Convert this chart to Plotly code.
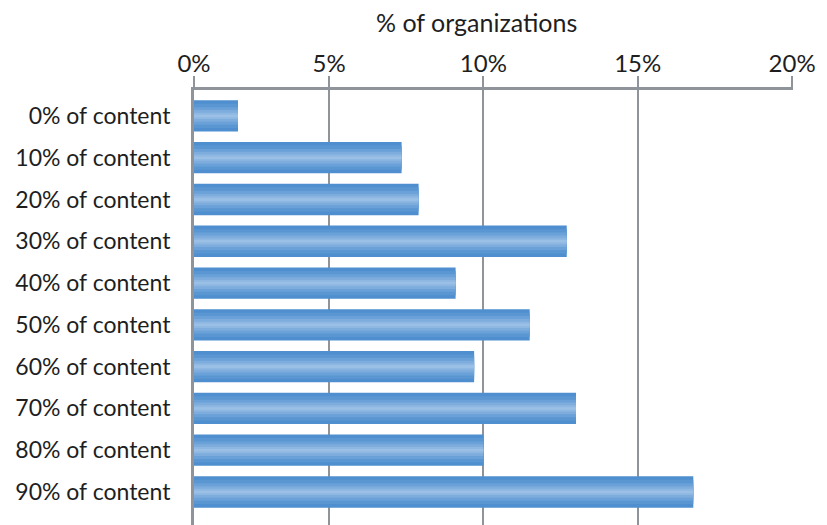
import plotly.graph_objects as go

categories = ["0% of content", "10% of content", "20% of content", "30% of content",
              "40% of content", "50% of content", "60% of content", "70% of content",
              "80% of content", "90% of content"]
values = [2.05, 7.35, 7.9, 12.7, 9.1, 11.5, 9.7, 13.0, 10.0, 16.8]
tick_values = [0.625, 5, 10, 15, 20]
tick_labels = ["0%", "5%", "10%", "15%", "20%"]

x_start = 0.625
font_family = "Lato, 'Open Sans', sans-serif"
grid_col = "#8f949a"
text_col = "#1e1e1e"

# layered bars to imitate the horizontal gradient
layers = [
    (0.75, "#4f8fcf"),
    (0.58, "#5a96d2"),
    (0.42, "#6aa1d8"),
    (0.28, "#7dacdd"),
    (0.15, "#8eb7e2"),
    (0.06, "#9bc0e6"),
]

fig = go.Figure()
for w, c in layers:
    fig.add_trace(go.Bar(
        y=categories, x=values, orientation="h", width=w,
        marker=dict(color=c, line=dict(width=0)),
        hoverinfo="skip", showlegend=False,
    ))

# page body has an 8px default margin; compensate
OFF = 8
W, H = 827 - OFF, 525 - OFF
L, R, T, B = 194 - OFF, 34, 90 - OFF, 0
fig.update_layout(
    width=W, height=H,
    margin=dict(l=L, r=R, t=T, b=B, autoexpand=False),
    paper_bgcolor="white", plot_bgcolor="white",
    barmode="overlay",
    font=dict(family=font_family, size=23, color=text_col),
    xaxis=dict(
        side="top", range=[x_start, 20.03], automargin=False,
        tickvals=tick_values, ticktext=tick_labels,
        showgrid=True, gridcolor=grid_col, gridwidth=2,
        showline=True, linecolor=grid_col, linewidth=2.5,
        ticks="outside", ticklen=11, tickcolor=grid_col, tickwidth=2,
        ticklabelstandoff=-5,
        zeroline=False,
        tickfont=dict(size=24, color=text_col),
    ),
    yaxis=dict(
        type="category", categoryorder="array", categoryarray=categories,
        range=[9.79, -0.62], automargin=False,
        showgrid=False, zeroline=False,
        showline=True, linecolor=grid_col, linewidth=3,
        ticks="", ticklabelstandoff=16,
        tickfont=dict(size=23, color=text_col),
    ),
    annotations=[dict(
        text="% of organizations",
        x=(476 - OFF - L) / (W - L - R), y=1 + (T - (22 - OFF)) / (H - T - B),
        xref="paper", yref="paper", xanchor="center", yanchor="middle",
        showarrow=False, font=dict(size=25, color=text_col),
    )],
)

fig.write_html("out.html")
